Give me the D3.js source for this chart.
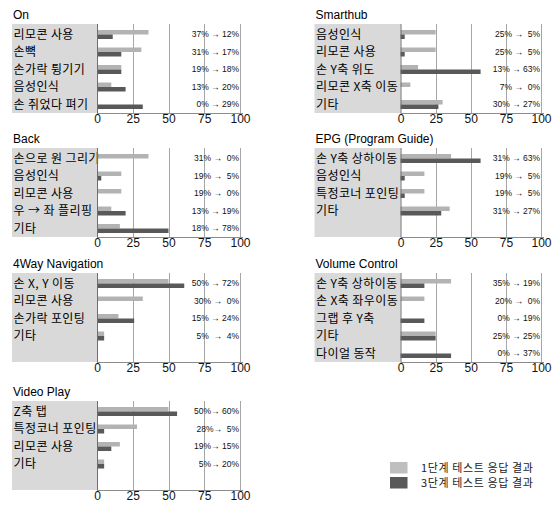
<!DOCTYPE html>
<html><head><meta charset="utf-8">
<script src="https://cdn.jsdelivr.net/npm/d3@7"></script>
<style>
html,body{margin:0;padding:0;background:#fff;}
svg{display:block;}
</style></head>
<body>
<svg id="chart" width="554" height="511"></svg>
<script>
// ---------- data ----------
const ticks = [0, 25, 50, 75, 100];
const seriesNames = ["1단계 테스트 응답 결과", "3단계 테스트 응답 결과"];

const onTitle = "On";
const onCats = ["리모콘 사용", "손뼉", "손가락 튕기기", "음성인식", "손 쥐었다 펴기"];
const onStage1 = [36, 31, 17, 10, 0];
const onStage3 = [11, 17, 17, 20, 32];
const onLabels = ["37% → 12%", "31% → 17%", "19% → 18%", "13% → 20%", "0% → 29%"];

const backTitle = "Back";
const backCats = ["손으로 원 그리기", "음성인식", "리모콘 사용", "우 → 좌 플리핑", "기타"];
const backStage1 = [36, 17, 17, 10, 16];
const backStage3 = [0, 3, 0, 20, 50];
const backLabels = ["31% →  0%", "19% →  5%", "19% →  0%", "13% → 19%", "18% → 78%"];

const navTitle = "4Way Navigation";
const navCats = ["손 X, Y 이동", "리모콘 사용", "손가락 포인팅", "기타"];
const navStage1 = [50, 32, 15, 5];
const navStage3 = [61, 0, 26, 5];
const navLabels = ["50% → 72%", "30% →  0%", "15% → 24%", "5%  →  4%"];

const videoTitle = "Video Play";
const videoCats = ["Z축 탭", "특정코너 포인팅", "리모콘 사용", "기타"];
const videoStage1 = [50, 28, 16, 5];
const videoStage3 = [56, 5, 10, 5];
const videoLabels = ["50%→ 60%", "28%→  5%", "19%→ 15%", "5%→ 20%"];

const smartTitle = "Smarthub";
const smartCats = ["음성인식", "리모콘 사용", "손 Y축 위도", "리모콘 X축 이동", "기타"];
const smartStage1 = [25, 25, 12.5, 7, 30];
const smartStage3 = [3, 3, 57, 0, 27];
const smartLabels = ["25% →  5%", "25% →  5%", "13% → 63%", "7% →  0%", "30% → 27%"];

const epgTitle = "EPG (Program  Guide)";
const epgCats = ["손 Y축 상하이동", "음성인식", "특정코너 포인팅", "기타"];
const epgStage1 = [36, 17, 17, 35];
const epgStage3 = [57, 3, 3, 29];
const epgLabels = ["31% → 63%", "19% →  5%", "19% →  5%", "31% → 27%"];

const volTitle = "Volume Control";
const volCats = ["손 Y축 상하이동", "손 X축 좌우이동", "그랩 후 Y축", "기타", "다이얼 동작"];
const volStage1 = [36, 17, 0, 25, 0];
const volStage3 = [17, 0, 17, 25, 36];
const volLabels = ["35% → 19%", "20% →  0%", "0% → 19%", "25% → 25%", "0% → 37%"];

// ---------- layout ----------
const panels = [
  {title: onTitle, cats: onCats, s1: onStage1, s3: onStage3, labels: onLabels, col: 0, top: 24},
  {title: backTitle, cats: backCats, s1: backStage1, s3: backStage3, labels: backLabels, col: 0, top: 148},
  {title: navTitle, cats: navCats, s1: navStage1, s3: navStage3, labels: navLabels, col: 0, top: 273},
  {title: videoTitle, cats: videoCats, s1: videoStage1, s3: videoStage3, labels: videoLabels, col: 0, top: 401},
  {title: smartTitle, cats: smartCats, s1: smartStage1, s3: smartStage3, labels: smartLabels, col: 1, top: 24},
  {title: epgTitle, cats: epgCats, s1: epgStage1, s3: epgStage3, labels: epgLabels, col: 1, top: 148},
  {title: volTitle, cats: volCats, s1: volStage1, s3: volStage3, labels: volLabels, col: 1, top: 273}
];
const cols = [
  {boxX: 12, x0: 97, x100: 240},
  {boxX: 314.5, x0: 400.5, x100: 541}
];
const boxH = 89;
const colors = {s1: "#b3b3b3", s3: "#595959", box: "#d9d9d9", grid: "#a6a6a6", axis: "#8c8c8c"};
const KFONT = "'Noto Sans CJK KR', 'Noto Sans', sans-serif";
const NFONT = "'Liberation Sans Narrow', 'Liberation Sans', Arial, sans-serif";

const svg = d3.select("#chart");

panels.forEach(p => {
  const c = cols[p.col];
  const g = svg.append("g");
  const x = d3.scaleLinear().domain([0, 100]).range([c.x0, c.x100]);
  const y = d3.scaleBand().domain(d3.range(5)).range([p.top + 1.75, p.top + 89.25]);
  const inner = d3.scaleBand().domain(["s1", "s3"]).range([-4.5, 4.5]);
  const rc = i => y(i) + y.bandwidth() / 2;

  // title
  g.append("text").attr("x", c.boxX + 1).attr("y", p.top - 5)
    .attr("font-family", "'Liberation Sans', Arial, sans-serif").attr("font-size", 12)
    .attr("fill", "#000").text(p.title);

  // grey category box
  g.append("rect").attr("x", c.boxX).attr("y", p.top)
    .attr("width", c.x0 - c.boxX).attr("height", boxH).attr("fill", colors.box);

  // gridlines
  g.selectAll("line.grid").data(ticks.slice(1)).join("line")
    .attr("x1", d => Math.round(x(d)) + 0.5).attr("x2", d => Math.round(x(d)) + 0.5)
    .attr("y1", p.top).attr("y2", p.top + boxH)
    .attr("stroke", colors.grid).attr("stroke-width", 1);

  // bars
  const rows = p.cats.map((cat, i) => ({i, cat, s1: p.s1[i], s3: p.s3[i], label: p.labels[i]}));
  ["s1", "s3"].forEach(k => {
    g.selectAll("rect.bar-" + k).data(rows).join("rect")
      .attr("x", x(0)).attr("y", d => rc(d.i) + inner(k))
      .attr("width", d => x(d[k]) - x(0)).attr("height", inner.bandwidth())
      .attr("fill", colors[k]);
  });

  // category labels
  g.selectAll("text.cat").data(rows).join("text")
    .attr("x", c.boxX + 1.5).attr("y", d => rc(d.i)).attr("dy", "0.36em")
    .attr("font-family", KFONT).attr("font-size", 12).attr("letter-spacing", 0.4)
    .attr("fill", "#000")
    .text(d => d.cat);

  // percentage labels
  g.selectAll("text.pct").data(rows).join("text")
    .attr("x", x(100) - 1).attr("y", d => rc(d.i)).attr("dy", "0.35em")
    .attr("text-anchor", "end").attr("font-family", "'Liberation Sans', Arial, sans-serif")
    .attr("font-size", 8.5).attr("fill", "#111").style("white-space", "pre")
    .attr("xml:space", "preserve")
    .text(d => d.label);

  // axes
  g.append("line").attr("x1", x(0) + 0.5).attr("x2", x(0) + 0.5)
    .attr("y1", p.top).attr("y2", p.top + boxH)
    .attr("stroke", "#6e6e6e");
  g.append("line").attr("x1", x(0)).attr("x2", x(100) + 3)
    .attr("y1", p.top + boxH + 0.5).attr("y2", p.top + boxH + 0.5)
    .attr("stroke", colors.axis);

  const axis = d3.axisBottom(x).tickValues(ticks).tickSize(0).tickPadding(0).tickFormat(d3.format("d"));
  const ag = g.append("g").attr("transform", `translate(0,${p.top + boxH + 1})`).call(axis);
  ag.select(".domain").remove();
  ag.selectAll("text").attr("font-family", NFONT).attr("font-size", 12)
    .attr("fill", "#111").attr("dy", "0.71em").attr("y", 0);
});

// legend
const legend = svg.append("g");
const legY = d3.scaleBand().domain(seriesNames).range([461, 491]);
const legColors = ["#bfbfbf", "#595959"];
seriesNames.forEach((name, i) => {
  legend.append("rect").attr("x", 390).attr("y", legY(name) + 1)
    .attr("width", 17.5).attr("height", 11.5).attr("fill", legColors[i]);
  legend.append("text").attr("x", 421).attr("y", legY(name) + 7).attr("dy", "0.36em")
    .attr("font-family", KFONT).attr("font-size", 11).attr("letter-spacing", 0.6)
    .attr("fill", "#222").text(name);
});
</script>
</body></html>
